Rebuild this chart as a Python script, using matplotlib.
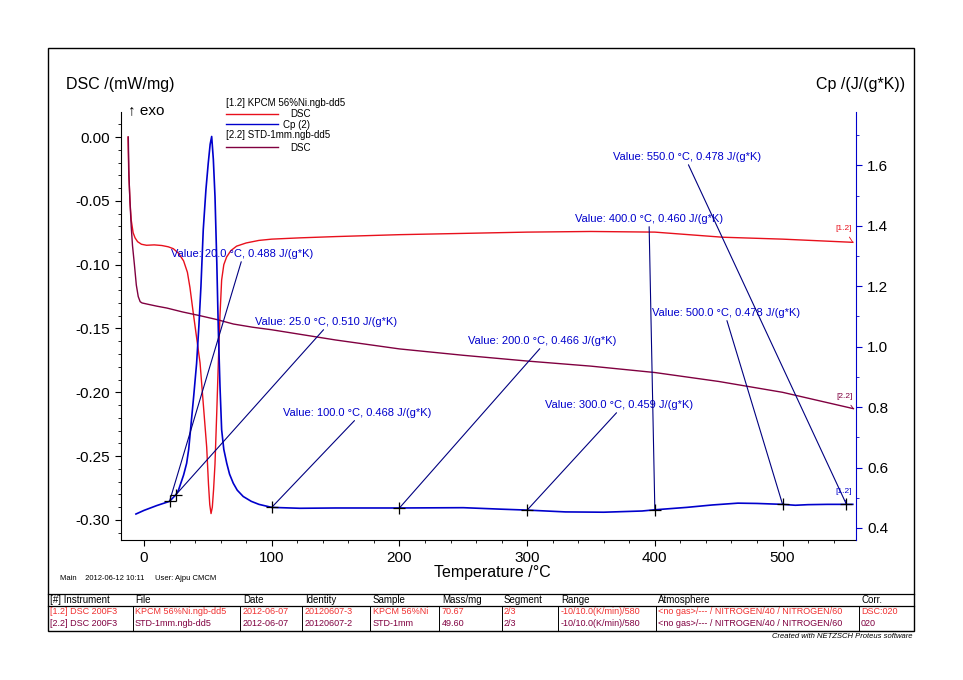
import numpy as np
import matplotlib
matplotlib.use('Agg')
import matplotlib.pyplot as plt
from matplotlib.lines import Line2D
from matplotlib.patches import Rectangle
from matplotlib.ticker import MultipleLocator, FormatStrFormatter

plt.rcParams['font.family'] = ['Liberation Sans', 'DejaVu Sans']
plt.rcParams['axes.unicode_minus'] = False

# --- data ---
# [1.2] KPCM 56%Ni, DSC (mW/mg)
dsc1_temp = [-12.5, -12.0, -11.0, -10.0, -8.5, -7.0, -5.0, -2.0, 2.0, 8.0, 14.0, 19.0,
             23.0, 27.0, 31.0, 34.0, 36.0, 38.6, 43.9, 49.1, 50.5, 51.5, 52.5, 53.5,
             54.5, 55.6, 57.0, 58.2, 59.5, 60.8, 62.5, 64.7, 68.0, 72.5, 80.0, 90.0,
             100.0, 122.0, 150.0, 200.0, 250.0, 300.0, 350.0, 400.0, 453.0, 500.0, 555.0]
dsc1_val = [0.0, -0.025, -0.05, -0.065, -0.075, -0.079, -0.082, -0.084, -0.0848,
            -0.0845, -0.085, -0.086, -0.0875, -0.091, -0.097, -0.106, -0.118, -0.138,
            -0.177, -0.243, -0.272, -0.288, -0.295, -0.290, -0.276, -0.256, -0.215,
            -0.177, -0.140, -0.112, -0.100, -0.094, -0.089, -0.0855, -0.083, -0.081,
            -0.080, -0.079, -0.078, -0.0765, -0.0755, -0.0745, -0.074, -0.0745,
            -0.0785, -0.080, -0.0825]

# [2.2] STD-1mm, DSC (mW/mg)
dsc2_temp = [-12.3, -11.8, -11.0, -10.0, -9.0, -7.5, -6.0, -4.5, -3.0, -1.5, 3.0, 10.0,
             18.0, 30.0, 44.0, 57.0, 70.0, 85.0, 100.0, 150.0, 200.0, 250.0, 300.0,
             350.0, 400.0, 450.0, 500.0, 555.5]
dsc2_val = [0.0, -0.03, -0.05, -0.07, -0.085, -0.10, -0.116, -0.125, -0.129, -0.130,
            -0.131, -0.1325, -0.134, -0.137, -0.140, -0.143, -0.1465, -0.149, -0.151,
            -0.159, -0.166, -0.171, -0.1755, -0.1795, -0.1845, -0.1915, -0.200, -0.2128]

# [1.2] Cp (J/(g*K))
cp_temp = [-6.3, 0.0, 10.0, 20.0, 25.0, 27.0, 29.0, 31.0, 33.4, 35.0, 37.0, 39.0, 41.2,
           43.0, 44.6, 46.4, 48.5, 50.3, 51.8, 53.0, 54.3, 55.6, 57.0, 58.2, 59.5,
           60.8, 62.5, 64.8, 67.0, 69.9, 73.0, 77.7, 84.0, 90.0, 100.0, 122.0, 150.0,
           200.0, 250.0, 280.0, 300.0, 330.0, 360.0, 390.0, 400.0, 425.0, 445.0,
           465.0, 480.0, 500.0, 510.0, 520.0, 535.0, 550.0, 555.0]
cp_val = [0.446, 0.458, 0.474, 0.488, 0.510, 0.525, 0.550, 0.575, 0.614, 0.660, 0.750,
          0.840, 0.945, 1.070, 1.200, 1.387, 1.520, 1.607, 1.670, 1.696, 1.620, 1.497,
          1.280, 1.056, 0.870, 0.725, 0.660, 0.614, 0.578, 0.548, 0.525, 0.504, 0.488,
          0.478, 0.468, 0.465, 0.466, 0.466, 0.467, 0.462, 0.459, 0.453, 0.452, 0.456,
          0.460, 0.468, 0.476, 0.482, 0.481, 0.478, 0.475, 0.477, 0.478, 0.478, 0.478]

# evaluated points
value_temp = [20.0, 25.0, 100.0, 200.0, 300.0, 400.0, 500.0, 550.0]
value_cp = [0.488, 0.510, 0.468, 0.466, 0.459, 0.460, 0.478, 0.478]
# where each "Value:" label sits (temperature, Cp)
label_pos = [(21.1, 1.307), (86.9, 1.082), (108.8, 0.781), (253.7, 1.019),
             (314.0, 0.807), (337.5, 1.423), (397.8, 1.112), (367.3, 1.628)]

table_header = ['[#] Instrument', 'File', 'Date', 'Identity', 'Sample', 'Mass/mg',
                'Segment', 'Range', 'Atmosphere', 'Corr.']
table_row1 = ['[1.2] DSC 200F3', 'KPCM 56%Ni.ngb-dd5', '2012-06-07', '20120607-3',
              'KPCM 56%Ni', '70.67', '2/3', '-10/10.0(K/min)/580',
              '<no gas>/--- / NITROGEN/40 / NITROGEN/60', 'DSC:020']
table_row2 = ['[2.2] DSC 200F3', 'STD-1mm.ngb-dd5', '2012-06-07', '20120607-2',
              'STD-1mm', '49.60', '2/3', '-10/10.0(K/min)/580',
              '<no gas>/--- / NITROGEN/40 / NITROGEN/60', '020']

RED = '#e8101c'
BLUE = '#0000cc'
PURPLE = '#800040'
NAVY = '#000080'

W, H = 963, 680


def fx(x):
    return x / W


def fy(y):
    return 1 - y / H


fig = plt.figure(figsize=(9.63, 6.8), dpi=100)

# outer frame
fig.patches.append(Rectangle((fx(48), fy(631)), fx(914) - fx(48), fy(48) - fy(631),
                             transform=fig.transFigure, fill=False, lw=1.0,
                             edgecolor='black'))

ax = fig.add_axes([fx(121), fy(540), fx(856) - fx(121), fy(112) - fy(540)])
ax2 = ax.twinx()

ax.plot(dsc1_temp, dsc1_val, color=RED, lw=1.0)
ax.plot(dsc2_temp, dsc2_val, color=PURPLE, lw=1.0)
ax2.plot(cp_temp, cp_val, color=BLUE, lw=1.2)

ax.set_xlim(-18, 557.5)
ax.set_ylim(-0.3157, 0.0196)
ax2.set_ylim(0.360, 1.777)

for a in (ax, ax2):
    a.spines['top'].set_visible(False)
ax2.spines['left'].set_visible(False)
ax2.spines['bottom'].set_visible(False)
ax.spines['right'].set_visible(False)
ax2.spines['right'].set_color(BLUE)

ax.xaxis.set_major_locator(MultipleLocator(100))
ax.xaxis.set_minor_locator(MultipleLocator(20))
ax.yaxis.set_major_locator(MultipleLocator(0.05))
ax.yaxis.set_minor_locator(MultipleLocator(0.01))
ax.yaxis.set_major_formatter(FormatStrFormatter('%.2f'))
ax2.yaxis.set_major_locator(MultipleLocator(0.2))
ax2.yaxis.set_minor_locator(MultipleLocator(0.1))
ax2.yaxis.set_major_formatter(FormatStrFormatter('%.1f'))

ax.tick_params(axis='both', which='major', labelsize=11, length=4, width=0.8, pad=4)
ax.tick_params(axis='both', which='minor', length=2, width=0.6)
ax2.tick_params(axis='y', which='major', labelsize=11, length=4, width=0.8,
                color=BLUE, pad=4)
ax2.tick_params(axis='y', which='minor', length=2, width=0.6, color=BLUE)

# evaluated points with their labels
for (t, c), (lx, ly) in zip(zip(value_temp, value_cp), label_pos):
    ax2.plot([t], [c], marker='+', color='black', ms=8, mew=0.9, zorder=5)
    ax2.annotate(f'Value: {t:.1f} °C, {c:.3f} J/(g*K)', xy=(t, c), xytext=(lx, ly),
                 textcoords='data', ha='left', va='center', fontsize=8, color=BLUE,
                 arrowprops=dict(arrowstyle='-', color=NAVY, lw=0.8,
                                 relpos=(0.5, 0.0), shrinkA=0, shrinkB=0))

# curve end tags
ax.annotate('[1.2]', xy=(dsc1_temp[-1], dsc1_val[-1]), xytext=(-6.5, 10),
            textcoords='offset points', ha='center', va='center', fontsize=6, color=RED,
            arrowprops=dict(arrowstyle='-', color=RED, lw=0.6, shrinkA=2, shrinkB=0))
ax.annotate('[2.2]', xy=(dsc2_temp[-1], dsc2_val[-1]), xytext=(-6.5, 8.6),
            textcoords='offset points', ha='center', va='center', fontsize=6,
            color=PURPLE,
            arrowprops=dict(arrowstyle='-', color=PURPLE, lw=0.6, shrinkA=2, shrinkB=0))
ax2.annotate('[1.2]', xy=(value_temp[-1], value_cp[-1]), xytext=(-2, 9.4),
             textcoords='offset points', ha='center', va='center', fontsize=6,
             color=BLUE,
             arrowprops=dict(arrowstyle='-', color=BLUE, lw=0.6, shrinkA=2, shrinkB=0))

# axis titles
fig.text(fx(66), fy(84), 'DSC /(mW/mg)', fontsize=11.5, ha='left', va='center')
fig.text(fx(128), fy(110), '↑ exo', fontsize=11, ha='left', va='center')
fig.text(fx(905), fy(84), 'Cp /(J/(g*K))', fontsize=11.5, ha='right', va='center')
fig.text(fx(492), fy(572), 'Temperature /°C', fontsize=11.5, ha='center', va='center')

# legend block
fig.text(fx(226), fy(103), '[1.2] KPCM 56%Ni.ngb-dd5', fontsize=7, ha='left', va='center')
fig.add_artist(Line2D([fx(226), fx(278)], [fy(114), fy(114)], color=RED, lw=1.0))
fig.text(fx(290), fy(114), 'DSC', fontsize=7, ha='left', va='center')
fig.add_artist(Line2D([fx(226), fx(278)], [fy(124), fy(124)], color=BLUE, lw=1.0))
fig.text(fx(283), fy(125), 'Cp (2)', fontsize=7, ha='left', va='center')
fig.text(fx(226), fy(135), '[2.2] STD-1mm.ngb-dd5', fontsize=7, ha='left', va='center')
fig.add_artist(Line2D([fx(226), fx(278)], [fy(147), fy(147)], color=PURPLE, lw=1.0))
fig.text(fx(290), fy(148), 'DSC', fontsize=7, ha='left', va='center')

# footer
fig.text(fx(60), fy(579), 'Main    2012-06-12 10:11     User: Ajpu CMCM', fontsize=5.5,
         ha='left', va='center')
fig.text(fx(912), fy(637), 'Created with NETZSCH Proteus software', fontsize=5.5,
         style='italic', ha='right', va='center')

# info table
col_x = [50, 135, 243, 305, 373, 442, 504, 561, 658, 861]
col_lines = [133, 240, 302, 370, 439, 502, 558, 656, 859]
for y in (594, 606):
    fig.add_artist(Line2D([fx(48), fx(914)], [fy(y), fy(y)], color='black', lw=0.9))
for x in col_lines:
    fig.add_artist(Line2D([fx(x), fx(x)], [fy(606), fy(631)], color='black', lw=0.7))
for x, h, r1, r2 in zip(col_x, table_header, table_row1, table_row2):
    fig.text(fx(x), fy(600), h, fontsize=7, ha='left', va='center')
    fig.text(fx(x), fy(612), r1, fontsize=6.5, ha='left', va='center', color='#f03030')
    fig.text(fx(x), fy(624), r2, fontsize=6.5, ha='left', va='center', color=PURPLE)

fig.savefig('out.png', dpi=100)
